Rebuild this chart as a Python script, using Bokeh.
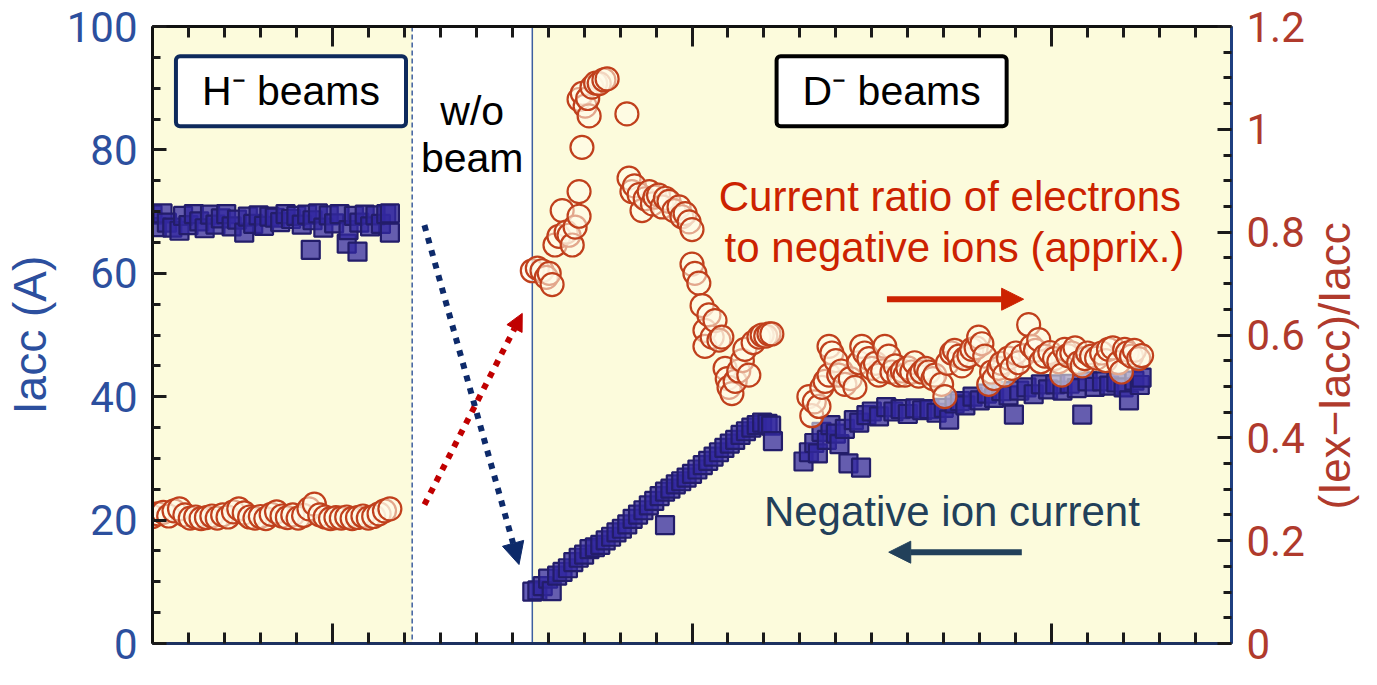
import numpy as np
from bokeh.plotting import figure
from bokeh.layouts import row
from bokeh.models import (Range1d, LinearAxis, FixedTicker, SingleIntervalTicker,
                          NumeralTickFormatter, BoxAnnotation, Span, Label, Arrow, NormalHead)
from bokeh.embed import file_html
from bokeh.resources import INLINE

# ---------------- data ----------------
# x: arbitrary time axis 0..30 (no tick labels visible in the original)
# H- beams : accelerated current Iacc (A)
h_iacc_x = [0.0, 0.12, 0.28, 0.4, 0.55, 0.75, 0.85, 1.0, 1.15, 1.3, 1.45, 1.6, 1.75, 1.9, 2.05,
            2.2, 2.35, 2.55, 2.65, 2.8, 2.95, 3.1, 3.25, 3.4, 3.55, 3.7, 3.85, 4.0, 4.15, 4.3,
            4.4, 4.45, 4.6, 4.75, 4.9, 5.05, 5.2, 5.4, 5.45, 5.6, 5.7, 5.75, 5.9, 6.05, 6.2,
            6.35, 6.5, 6.6, 6.6]
h_iacc_y = [69.5, 67.5, 69.7, 68.2, 67.4, 66.9, 69.3, 67.8, 69.6, 68.4, 67.3, 69.5, 67.9, 68.9, 69.6,
            67.6, 68.7, 66.6, 69.2, 68.0, 69.4, 67.7, 69.2, 69.0, 68.3, 69.6, 68.8, 69.3, 67.9, 69.5,
            63.8, 68.6, 69.7, 67.4, 69.4, 68.1, 69.6, 64.8, 67.0, 69.3, 63.5, 68.2, 69.5, 67.6, 69.4,
            68.0, 69.6, 69.7, 66.6]
# H- beams : ratio (Iex-Iacc)/Iacc
h_ratio_x = [0.0, 0.15, 0.3, 0.45, 0.6, 0.75, 0.9, 1.05, 1.2, 1.35, 1.5, 1.65, 1.8, 1.95, 2.1,
             2.25, 2.4, 2.55, 2.7, 2.85, 3.0, 3.15, 3.3, 3.45, 3.6, 3.75, 3.9, 4.05, 4.2, 4.35,
             4.5, 4.65, 4.8, 4.95, 5.1, 5.25, 5.4, 5.55, 5.7, 5.85, 6.0, 6.15, 6.3, 6.45, 6.6]
h_ratio_y = [0.247, 0.252, 0.255, 0.248, 0.258, 0.262, 0.250, 0.244, 0.246, 0.243, 0.245, 0.248,
             0.244, 0.250, 0.246, 0.256, 0.262, 0.254, 0.246, 0.244, 0.247, 0.243, 0.251, 0.256,
             0.248, 0.245, 0.250, 0.244, 0.249, 0.262, 0.271, 0.250, 0.246, 0.243, 0.245, 0.244,
             0.246, 0.243, 0.245, 0.248, 0.244, 0.247, 0.252, 0.258, 0.262]
# D- beams, first run : Iacc
d1_iacc_x = [10.56, 10.7, 10.85, 11.0, 11.1, 11.25, 11.4, 11.55, 11.7, 11.85, 12.0, 12.15, 12.3,
             12.45, 12.6, 12.75, 12.9, 13.05, 13.2, 13.35, 13.5, 13.65, 13.8, 13.95, 14.1, 14.25,
             14.25, 14.4, 14.55, 14.7, 14.85, 15.0, 15.15, 15.3, 15.45, 15.6, 15.75, 15.9, 16.05,
             16.2, 16.35, 16.5, 16.65, 16.8, 16.95, 17.1, 17.2, 17.25]
d1_iacc_y = [8.4, 8.6, 9.3, 10.5, 8.5, 11.0, 11.6, 12.2, 13.2, 13.9, 14.4, 15.3, 15.6, 16.0, 16.7,
             17.3, 18.0, 18.6, 19.3, 20.2, 20.9, 21.6, 22.4, 23.1, 23.9, 24.6, 19.2, 25.1, 25.8,
             26.3, 26.9, 27.5, 28.2, 28.9, 29.6, 30.3, 31.0, 31.7, 32.4, 33.0, 33.8, 34.4, 35.0,
             35.4, 35.8, 35.6, 35.3, 32.8]
# D- beams, first run : ratio
d1_ratio_x = [10.56, 10.7, 10.83, 10.95, 11.03, 11.11, 11.19, 11.3, 11.39, 11.5, 11.58, 11.67, 11.75,
              11.86, 11.86, 11.94, 11.86, 11.95, 12.03, 12.14, 12.1, 12.22, 12.32, 12.42, 12.55,
              12.64, 13.19, 13.25, 13.33, 13.4, 13.53, 13.61, 13.7, 13.81, 13.9, 13.97, 14.07,
              14.17, 14.26, 14.36, 14.5, 14.64, 14.72, 14.81, 14.92, 15.0, 15.0, 15.08, 15.19,
              15.28, 15.36, 15.36, 15.47, 15.56, 15.64, 15.75, 15.83, 15.92, 15.98, 16.03, 16.11,
              16.2, 16.3, 16.4, 16.47, 16.58, 16.7, 16.86, 16.95, 17.05, 17.14, 17.22]
d1_ratio_y = [0.725, 0.73, 0.725, 0.712, 0.72, 0.698, 0.775, 0.792, 0.842, 0.80, 0.794, 0.775, 0.81,
              0.831, 0.879, 0.965, 1.058, 1.07, 1.045, 1.026, 1.06, 1.082, 1.09, 1.089, 1.096,
              1.098, 1.03, 0.905, 0.879, 0.89, 0.873, 0.842, 0.865, 0.879, 0.855, 0.868, 0.872,
              0.849, 0.866, 0.86, 0.842, 0.849, 0.83, 0.836, 0.82, 0.805, 0.738, 0.72, 0.701,
              0.657, 0.609, 0.578, 0.639, 0.596, 0.628, 0.59, 0.596, 0.535, 0.515, 0.498, 0.486,
              0.51, 0.53, 0.55, 0.572, 0.522, 0.585, 0.596, 0.60, 0.598, 0.602, 0.602]
# D- beams, second run : Iacc
d2_iacc_x = [18.1, 18.25, 18.4, 18.5, 18.6, 18.75, 18.85, 19.0, 19.1, 19.25, 19.35, 19.5, 19.65,
             19.7, 19.85, 20.0, 20.2, 20.4, 20.6, 20.8, 21.0, 21.2, 21.4, 21.6, 21.8, 22.0, 22.15,
             22.3, 22.45, 22.6, 22.8, 23.0, 23.2, 23.4, 23.6, 23.8, 23.95, 24.1, 24.3, 24.5, 24.7,
             24.9, 25.1, 25.3, 25.5, 25.7, 25.85, 26.0, 26.2, 26.4, 26.6, 26.8, 27.0, 27.15, 27.3,
             27.45, 27.5]
d2_iacc_y = [29.5, 31.0, 32.5, 30.8, 34.3, 33.0, 35.4, 34.0, 32.3, 34.8, 29.2, 36.2, 35.8, 28.5,
             37.0, 37.6, 36.8, 38.3, 37.6, 38.0, 37.2, 38.1, 37.8, 38.0, 37.4, 38.2, 36.3, 38.9,
             39.3, 38.6, 40.0, 39.4, 40.5, 39.8, 40.9, 40.2, 37.1, 41.0, 41.5, 40.4, 42.0, 41.2,
             42.0, 41.0, 42.1, 41.4, 37.1, 42.5, 41.6, 42.5, 41.8, 42.3, 41.5, 39.4, 42.6, 41.9,
             43.1]
# D- beams, second run : ratio
d2_ratio_x = [18.25, 18.33, 18.4, 18.53, 18.61, 18.7, 18.81, 18.81, 18.89, 19.0, 19.08, 19.15,
              19.25, 19.4, 19.53, 19.64, 19.72, 19.8, 19.92, 20.0, 20.1, 20.19, 20.3, 20.36, 20.47,
              20.56, 20.65, 20.75, 20.85, 20.92, 21.0, 21.11, 21.19, 21.3, 21.39, 21.5, 21.58,
              21.7, 21.75, 21.94, 22.03, 22.1, 22.22, 22.3, 22.42, 22.5, 22.58, 22.7, 22.78, 22.9,
              22.97, 23.06, 23.14, 23.25, 23.33, 23.4, 23.53, 23.6, 23.69, 23.8, 23.89, 24.0,
              24.08, 24.2, 24.36, 24.44, 24.55, 24.64, 24.7, 24.81, 24.95, 25.08, 25.2, 25.28,
              25.36, 25.45, 25.56, 25.65, 25.75, 25.85, 25.92, 26.0, 26.11, 26.25, 26.39, 26.5,
              26.58, 26.7, 26.86, 26.94, 27.03, 27.1, 27.22, 27.3, 27.42, 27.5]
d2_ratio_y = [0.48, 0.443, 0.47, 0.461, 0.498, 0.51, 0.522, 0.578, 0.565, 0.55, 0.522, 0.53,
              0.504, 0.515, 0.498, 0.546, 0.578, 0.565, 0.554, 0.535, 0.545, 0.522, 0.53, 0.578,
              0.559, 0.528, 0.54, 0.522, 0.53, 0.522, 0.536, 0.528, 0.546, 0.52, 0.528, 0.535,
              0.528, 0.515, 0.522, 0.504, 0.48, 0.545, 0.565, 0.57, 0.559, 0.54, 0.554, 0.56,
              0.572, 0.575, 0.596, 0.583, 0.559, 0.504, 0.528, 0.515, 0.535, 0.545, 0.522, 0.555,
              0.535, 0.565, 0.546, 0.56, 0.62, 0.578, 0.57, 0.591, 0.548, 0.559, 0.566, 0.554,
              0.548, 0.522, 0.572, 0.56, 0.565, 0.575, 0.546, 0.54, 0.554, 0.565, 0.559, 0.555,
              0.565, 0.55, 0.572, 0.575, 0.546, 0.528, 0.572, 0.565, 0.559, 0.57, 0.554, 0.56]

# region limits (x) and tick positions
no_beam_start, no_beam_end = 7.22, 10.56
x_major_ticks = [5, 15, 25]
ratio_ticks = [0, 0.2, 0.4, 0.6, 0.8, 1.0, 1.2]
ratio_minor = [0.05, 0.1, 0.15, 0.25, 0.3, 0.35, 0.45, 0.5, 0.55, 0.65, 0.7, 0.75,
               0.85, 0.9, 0.95, 1.05, 1.1, 1.15]

# ---------------- styling ----------------
YELLOW = "#fcfbdc"
BLUE_TXT = "#2c4f9e"
RED_TXT = "#b03a2c"
SQ_LINE = "#231d6a"
SQ_FILL = "#3328a0"
CI_LINE = "#c0401c"
TICKFONT = "Roboto"
FONT = "Liberation Sans"
H = 669

p = figure(width=1307, height=H, output_backend="svg", toolbar_location=None,
           x_range=Range1d(0, 30), y_range=Range1d(0, 100),
           min_border_left=152, min_border_right=75, min_border_top=26, min_border_bottom=26)
p.extra_y_ranges = {"ratio": Range1d(0, 1.2)}
p.background_fill_color = YELLOW
p.border_fill_color = "white"
p.outline_line_color = None
p.grid.visible = False

# x axes (bottom + top); their labels are not shown in the original
def style_x(ax):
    ax.ticker = FixedTicker(ticks=x_major_ticks, minor_ticks=list(range(0, 31)))
    ax.major_label_text_color = None
    ax.major_label_text_font_size = "1px"
    ax.major_label_standoff = 0
    ax.major_tick_in, ax.major_tick_out = 20, 0
    ax.minor_tick_in, ax.minor_tick_out = 11, 0
    ax.major_tick_line_color = "#1a1a1a"
    ax.minor_tick_line_color = "#1a1a1a"
    ax.major_tick_line_width = 3
    ax.minor_tick_line_width = 3
    ax.axis_line_color = "#111111"
    ax.axis_line_width = 3

style_x(p.xaxis[0])
p.xaxis[0].axis_line_color = "#1d3160"
top = LinearAxis()
style_x(top)
p.add_layout(top, "above")

def style_y(ax, color):
    ax.major_label_text_font = TICKFONT
    ax.major_label_text_font_size = "42px"
    ax.major_label_text_color = color
    ax.major_label_standoff = 15
    ax.major_tick_in, ax.major_tick_out = 14, 0
    ax.minor_tick_in, ax.minor_tick_out = 8, 0
    ax.major_tick_line_color = "#1a1a1a"
    ax.minor_tick_line_color = "#1a1a1a"
    ax.major_tick_line_width = 3
    ax.minor_tick_line_width = 3
    ax.axis_line_width = 3

ly = p.yaxis[0]
ly.ticker = SingleIntervalTicker(interval=20, num_minor_ticks=4)
style_y(ly, BLUE_TXT)
ly.axis_line_color = "#111111"
ly.axis_label = "Iacc (A)"
ly.axis_label_standoff = 8
ly.axis_label_text_font = FONT
ly.axis_label_text_font_style = "normal"
ly.axis_label_text_font_size = "46px"
ly.axis_label_text_color = BLUE_TXT

ry = LinearAxis(y_range_name="ratio",
                ticker=FixedTicker(ticks=ratio_ticks, minor_ticks=ratio_minor),
                formatter=NumeralTickFormatter(format="0.[0]"))
style_y(ry, RED_TXT)
ry.axis_line_color = "#1f3f80"
p.add_layout(ry, "right")

# white "w/o beam" band and its borders
p.add_layout(BoxAnnotation(left=no_beam_start, right=no_beam_end, fill_color="white",
                           fill_alpha=1.0, line_color=None, level="underlay"))
p.add_layout(Span(location=no_beam_start, dimension="height", line_color="#3d5fa0",
                  line_width=1.5, line_dash="5 3", level="underlay"))
p.add_layout(Span(location=no_beam_end, dimension="height", line_color="#3d5fa0",
                  line_width=1.5, level="underlay"))

# ---------------- data marks ----------------
sq = dict(marker="square", size=18, fill_color=SQ_FILL, fill_alpha=0.75,
          line_color=SQ_LINE, line_width=2.2)
for xs, ys in ((h_iacc_x, h_iacc_y), (d1_iacc_x, d1_iacc_y), (d2_iacc_x, d2_iacc_y)):
    p.scatter(xs, ys, **sq)

ci = dict(marker="circle", size=23, fill_color="#fffbea", fill_alpha=0.55,
          line_color=CI_LINE, line_width=2.2, y_range_name="ratio")
for xs, ys in ((h_ratio_x, h_ratio_y), (d1_ratio_x, d1_ratio_y), (d2_ratio_x, d2_ratio_y)):
    p.scatter(xs, ys, **ci)

# ---------------- annotations ----------------
def lab(fig, x, y, text, size, color, **kw):
    opts = dict(text_font=FONT, text_font_size=f"{size}px", text_color=color)
    opts.update(kw)
    fig.add_layout(Label(x=x, y=y, text=text, **opts))

lab(p, 3.85, 89.5, "H\u207b beams", 41, "black", text_align="center", text_baseline="middle",
    background_fill_color="white", border_line_color="#0e2a5c", border_line_width=4,
    padding=dict(left=26, right=26, top=12, bottom=12), border_radius=4)
lab(p, 20.55, 89.5, "D\u207b beams", 41, "black", text_align="center", text_baseline="middle",
    background_fill_color="white", border_line_color="black", border_line_width=4,
    padding=dict(left=26, right=26, top=12, bottom=12), border_radius=4)
lab(p, 8.89, 82.5, "w/o", 41, "black", text_align="center")
lab(p, 8.89, 75.0, "beam", 41, "black", text_align="center")
lab(p, 22.17, 68.6, "Current ratio of electrons", 42, "#cc2200", text_align="center")
lab(p, 22.3, 60.3, "to negative ions (apprix.)", 42, "#cc2200", text_align="center")
lab(p, 17.0, 17.6, "Negative ion current", 42, "#22405a", text_align="left")

# arrows
p.add_layout(Arrow(x_start=7.56, y_start=67.8, x_end=10.19, y_end=12.8,
                   line_color="#0d2a6a", line_width=6, line_dash="6 7",
                   end=NormalHead(size=22, fill_color="#0d2a6a", line_color="#0d2a6a")))
p.add_layout(Arrow(x_start=7.56, y_start=22.5, x_end=10.28, y_end=53.5,
                   line_color="#c00000", line_width=6, line_dash="6 7",
                   end=NormalHead(size=17, fill_color="#c00000", line_color="#c00000")))
p.add_layout(Arrow(x_start=20.42, y_start=55.8, x_end=24.22, y_end=55.8,
                   line_color="#cc2200", line_width=6,
                   end=NormalHead(size=22, fill_color="#cc2200", line_color="#cc2200")))
p.add_layout(Arrow(x_start=24.17, y_start=14.8, x_end=20.47, y_end=14.8,
                   line_color="#22405a", line_width=6,
                   end=NormalHead(size=22, fill_color="#22405a", line_color="#22405a")))

# right-hand axis title, in a narrow companion panel so it reads bottom-to-top
p2 = figure(width=54, height=H, output_backend="svg", toolbar_location=None,
            x_range=Range1d(0, 1), y_range=Range1d(0, 1),
            x_axis_location=None, y_axis_location=None, min_border=0)
p2.outline_line_color = None
p2.background_fill_color = "white"
p2.border_fill_color = "white"
p2.grid.visible = False
lab(p2, 0.5, 0.45, "(Iex\u2212Iacc)/Iacc", 44, RED_TXT, angle=np.pi / 2,
    text_align="center", text_baseline="middle")

layout = row(p, p2, spacing=0)
open("out.html", "w").write(file_html(layout, INLINE))
